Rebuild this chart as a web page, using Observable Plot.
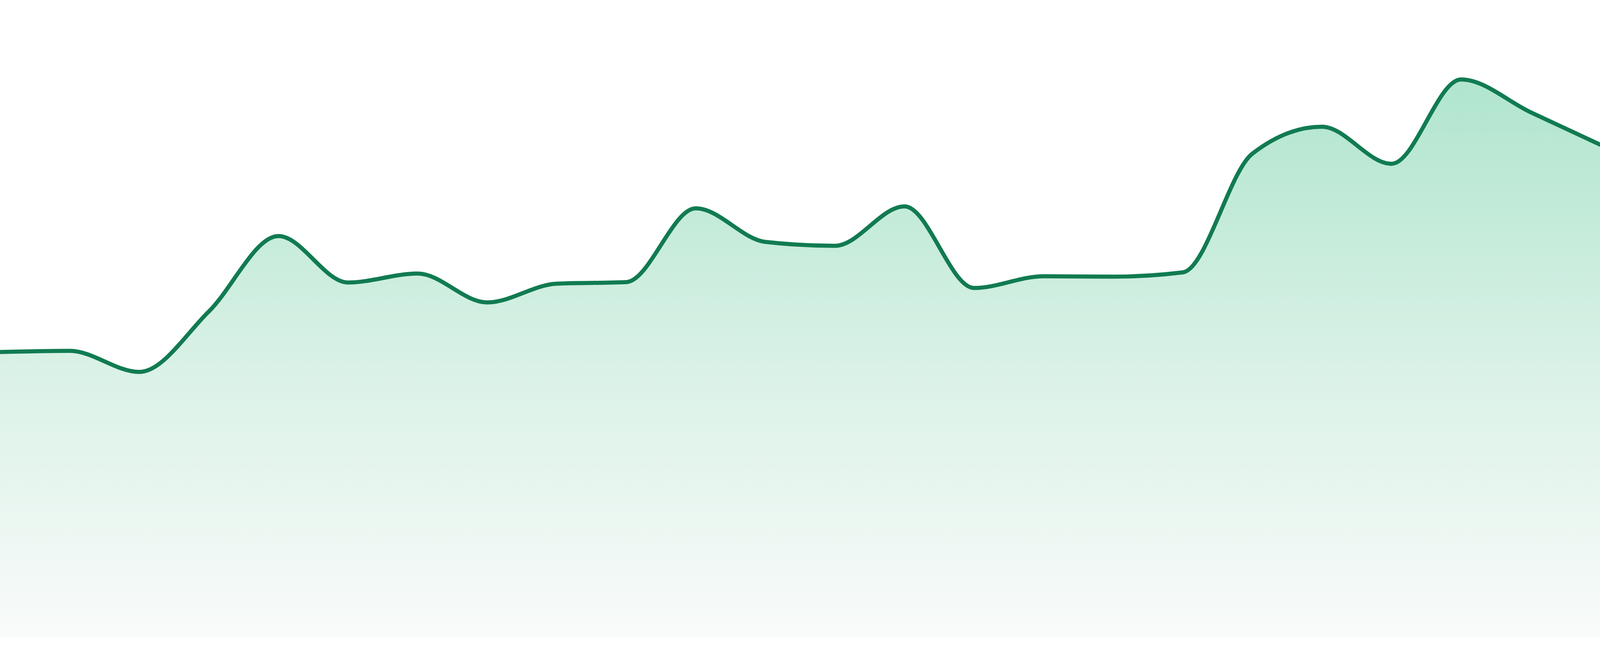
<!DOCTYPE html>
<html>
<head>
<meta charset="utf-8">
<script src="https://cdn.jsdelivr.net/npm/d3@7"></script>
<script src="https://cdn.jsdelivr.net/npm/@observablehq/plot@0.6"></script>
<style>
  html, body { margin: 0; padding: 0; background: #ffffff; overflow: hidden; width: 100%; height: 100%; }
  #chart { width: 100%; height: 100%; overflow: hidden; }
  #chart svg { display: block; }
</style>
</head>
<body>
<div id="chart"></div>
<script>
// Categories (x positions, evenly spaced periods)
const periods = d3.range(1, 25);
// Series values
const values = [73.1, 73.4, 68.0, 83.5, 102.8, 90.9, 93.2, 85.8, 90.6, 91.0, 109.9, 101.3,
                100.3, 110.4, 89.5, 92.5, 92.4, 93.5, 123.9, 130.8, 121.3, 142.9, 134.5, 126.2];

const data = periods.map((p, i) => ({period: p, value: values[i]}));

// fill the actual viewport, keeping the reference's proportions (4800 x 1680 design)
const W = document.documentElement.clientWidth || window.innerWidth || 4800;
const H = document.documentElement.clientHeight || window.innerHeight || 1680;
const k = H / 1680;

const chart = Plot.plot({
  width: W,
  height: H,
  marginTop: 0,
  marginRight: 0,
  marginBottom: 48 * k,
  marginLeft: 0,
  style: {background: "#ffffff", overflow: "hidden"},
  x: {domain: [1, 24], axis: null},
  y: {domain: [0, 163.2], axis: null},
  marks: [
    Plot.areaY(data, {x: "period", y: "value", curve: "monotone-x", fill: "url(#areaGradient)"}),
    Plot.lineY(data, {x: "period", y: "value", curve: "monotone-x", stroke: "#117b51", strokeWidth: 10.5 * k})
  ]
});

// gradient definition
const ns = "http://www.w3.org/2000/svg";
const defs = document.createElementNS(ns, "defs");
const grad = document.createElementNS(ns, "linearGradient");
grad.setAttribute("id", "areaGradient");
grad.setAttribute("x1", "0"); grad.setAttribute("y1", "0");
grad.setAttribute("x2", "0"); grad.setAttribute("y2", "1");
[["0", "#b0e5ce"], ["0.55", "#dcf2e8"], ["1", "#f9fbfa"]].forEach(([o, c]) => {
  const s = document.createElementNS(ns, "stop");
  s.setAttribute("offset", o);
  s.setAttribute("stop-color", c);
  grad.appendChild(s);
});
defs.appendChild(grad);
chart.insertBefore(defs, chart.firstChild);

document.getElementById("chart").appendChild(chart);
</script>
</body>
</html>
